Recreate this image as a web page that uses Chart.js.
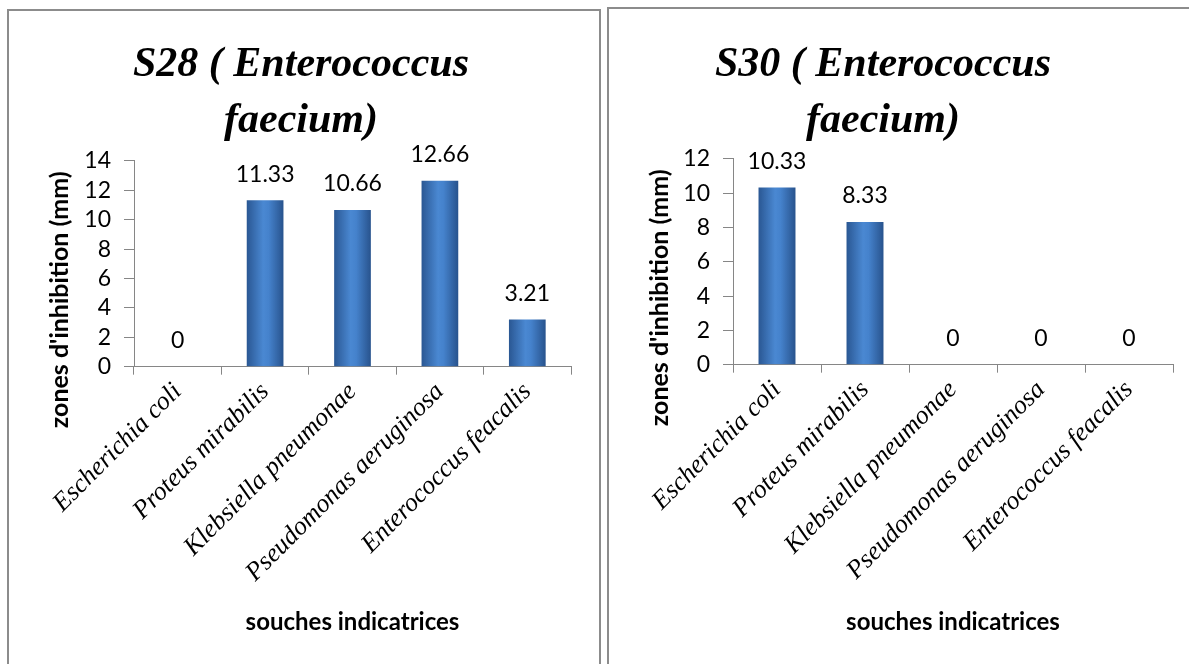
<!DOCTYPE html>
<html>
<head>
<meta charset="utf-8">
<script src="https://cdn.jsdelivr.net/npm/chart.js@4.4.0/dist/chart.umd.min.js"></script>
<style>
  body { margin: 0; width: 1189px; height: 664px; background: #fff; position: relative; overflow: hidden; }
  .cadre { position: absolute; border: 2px solid #8c8c8c; border-bottom: none; pointer-events: none; z-index: 2; }
  .zone { position: absolute; }
</style>
</head>
<body>
<div class="cadre" style="left:7px;top:9px;width:590px;height:670px"></div>
<div class="cadre" style="left:607px;top:7px;width:600px;height:670px"></div>
<div class="zone" style="left:31px;top:11px;width:550px;height:653px"><canvas id="graphS28"></canvas></div>
<div class="zone" style="left:593px;top:9px;width:590px;height:655px"><canvas id="graphS30"></canvas></div>

<script>
// données
const souches = ['Escherichia coli', 'Proteus mirabilis', 'Klebsiella pneumonae', 'Pseudomonas aeruginosa', 'Enterococcus feacalis'];
const valeursS28 = [0, 11.33, 10.66, 12.66, 3.21];
const valeursS30 = [10.33, 8.33, 0, 0, 0];
const titreS28 = ['S28 ( Enterococcus', 'faecium)'];
const titreS30 = ['S30 ( Enterococcus', 'faecium)'];
const maxS28 = 14;
const maxS30 = 12;
const pasY = 2;
const titreAxeY = "zones d'inhibition (mm)";
const titreAxeX = 'souches indicatrices';

const largeurBarre = 0.42;
const gris = '#868686';
const serif = "'Liberation Serif', 'Times New Roman', serif";
const sans = "Lato, 'Open Sans', sans-serif";

// dégradé horizontal des barres (style Excel)
function degrade(c) {
  const chart = c.chart;
  const x = chart.scales.x;
  if (!x || !x.width || c.dataIndex === undefined) return '#3b70b8';
  const cx = x.getPixelForValue(c.dataIndex);
  const w = x.width / souches.length * largeurBarre;
  const g = chart.ctx.createLinearGradient(cx - w / 2, 0, cx + w / 2, 0);
  g.addColorStop(0, '#2a5793');
  g.addColorStop(0.45, '#4a88d2');
  g.addColorStop(0.6, '#4582cc');
  g.addColorStop(1, '#28538d');
  return g;
}

// étiquettes de valeurs au-dessus des barres
const etiquettes = {
  id: 'etiquettes',
  afterDatasetsDraw(chart) {
    const ctx = chart.ctx;
    const meta = chart.getDatasetMeta(0);
    ctx.save();
    ctx.font = '23px ' + sans;
    ctx.fillStyle = '#000';
    ctx.textAlign = 'center';
    ctx.textBaseline = 'middle';
    meta.data.forEach((barre, i) => {
      ctx.fillText(String(chart.data.datasets[0].data[i]), barre.x, barre.y - 26);
    });
    ctx.restore();
  }
};

// titre de l'axe Y (déborde sous l'axe comme dans Excel)
const titreY = {
  id: 'titreY',
  afterDraw(chart, args, opts) {
    const ctx = chart.ctx;
    const a = chart.chartArea;
    ctx.save();
    ctx.translate(chart.scales.y.left + opts.decalage, (a.top + a.bottom) / 2 + 36);
    ctx.rotate(-Math.PI / 2);
    ctx.font = 'bold 25px ' + sans;
    ctx.fillStyle = '#000';
    ctx.textAlign = 'center';
    ctx.textBaseline = 'middle';
    ctx.fillText(titreAxeY, 0, 0);
    ctx.restore();
  }
};

function creerGraphique(id, valeurs, titre, maxY, reglages) {
  new Chart(document.getElementById(id), {
    type: 'bar',
    data: {
      labels: souches,
      datasets: [{
        data: valeurs,
        backgroundColor: degrade,
        borderWidth: 0,
        barPercentage: largeurBarre,
        categoryPercentage: 1
      }]
    },
    options: {
      responsive: true,
      maintainAspectRatio: false,
      animation: false,
      layout: { padding: { left: 0, right: 10, top: 0, bottom: 27 } },
      plugins: {
        legend: { display: false },
        tooltip: { enabled: false },
        titreY: { decalage: reglages.decalageY },
        title: {
          display: true,
          text: titre,
          color: '#000',
          font: { family: serif, size: 42, weight: 'bold', style: 'italic', lineHeight: 1.333 },
          padding: reglages.padTitre
        }
      },
      scales: {
        y: {
          min: 0,
          max: maxY,
          afterFit(axe) { axe.width = reglages.largeurY; },
          ticks: { stepSize: pasY, autoSkip: false, color: '#000', font: { family: sans, size: 23, lineHeight: 1 }, padding: 13 },
          grid: { drawOnChartArea: false, tickLength: 10, color: gris },
          border: { color: gris }
        },
        x: {
          ticks: {
            color: '#000',
            font: { family: serif, size: 26, style: 'italic' },
            maxRotation: 45,
            minRotation: 45,
            autoSkip: false,
            padding: 2
          },
          grid: { drawOnChartArea: false, offset: true, tickLength: 8, color: gris },
          border: { color: gris },
          title: {
            display: true,
            text: titreAxeX,
            color: '#000',
            font: { family: sans, size: 24, weight: 'bold' },
            padding: { top: reglages.padTitreX, bottom: 0 }
          }
        }
      }
    },
    plugins: [etiquettes, titreY]
  });
}

creerGraphique('graphS28', valeursS28, titreS28, maxS28,
  { largeurY: 103, decalageY: 29, padTitre: { top: 26, bottom: 12 }, padTitreX: 18 });
creerGraphique('graphS30', valeursS30, titreS30, maxS30,
  { largeurY: 140, decalageY: 67, padTitre: { top: 28, bottom: 10 }, padTitreX: 20 });
</script>
</body>
</html>
